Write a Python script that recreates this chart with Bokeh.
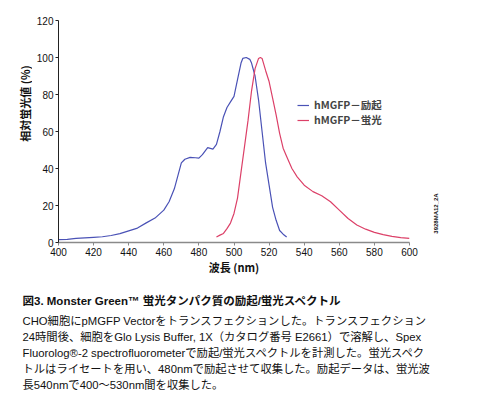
import math
from bokeh.plotting import figure
from bokeh.layouts import row, column
from bokeh.models import Range1d, Label, Legend, LegendItem, FixedTicker
from bokeh.embed import file_html
from bokeh.resources import INLINE

# Excitation spectrum (blue)
ex_nm = [400, 405, 410, 415, 420, 425, 430, 435, 440, 445, 450, 455, 460, 463, 466,
         468, 470, 472, 475, 478, 480, 482, 485, 488, 490, 492, 494, 496, 498, 500,
         502, 504, 505, 507, 509, 510, 512, 514, 516, 518, 520, 522, 524, 526, 528, 530]
ex_val = [1.6, 1.7, 2.2, 2.5, 2.8, 3.1, 3.8, 4.8, 6.3, 7.8, 10.6, 13.2, 17.5, 22, 29,
          36, 43, 45, 46, 45.8, 45.6, 47.5, 51.3, 50.5, 53, 60, 68, 73, 76, 79,
          88, 97, 99.5, 100, 99, 97, 90, 77, 60, 43, 31, 19, 12, 6.5, 4.5, 3]

# Emission spectrum (red)
em_nm = [490, 492, 494, 496, 498, 500, 502, 504, 506, 508, 510, 512, 514, 515, 516,
         518, 520, 522, 524, 526, 528, 530, 533, 536, 540, 545, 550, 555, 560, 565,
         570, 575, 580, 585, 590, 595, 600]
em_val = [3, 4, 4.9, 7.5, 10.5, 15.7, 24, 38, 52, 66, 82, 94, 99.5, 100, 99.5,
          93, 87, 78, 69, 59, 51, 46.5, 40, 35.5, 31, 27.5, 25.3, 22, 17.5, 13,
          9.5, 7.2, 5.5, 4.3, 3.3, 2.6, 2.2]

x_ticks = [400, 420, 440, 460, 480, 500, 520, 540, 560, 580, 600]
y_ticks = [0, 20, 40, 60, 80, 100, 120]

legend_labels = ["hMGFP－励起", "hMGFP－蛍光"]
x_title = "波長 (nm)"
y_title = "相対蛍光値 (%)"
fig_title = "図3. Monster Green™ 蛍光タンパク質の励起/蛍光スペクトル"
caption = [
    "CHO細胞にpMGFP Vectorをトランスフェクションした。トランスフェクション",
    "24時間後、細胞をGlo Lysis Buffer, 1X（カタログ番号 E2661）で溶解し、Spex",
    "Fluorolog®-2 spectrofluorometerで励起/蛍光スペクトルを計測した。蛍光スペク",
    "トルはライセートを用い、480nmで励起させて収集した。励起データは、蛍光波",
    "長540nmで400～530nm間を収集した。",
]
code_id = "3928MA12_2A"

BLUE = "#4a52b6"
RED = "#dc4068"
JP = "Noto Sans CJK JP"
MIX = "Liberation Sans, 'Noto Sans CJK JP'"
LAT = "Liberation Sans"
TOTAL_H = 398
TOP_H = 280


def blank(w, h):
    f = figure(width=w, height=h, output_backend="svg", toolbar_location=None,
               x_range=Range1d(0, 1), y_range=Range1d(0, 1),
               x_axis_location=None, y_axis_location=None, min_border=0)
    f.outline_line_color = None
    f.grid.visible = False
    return f


def lab(f, text, x, y, size, bold=False, angle=0.0, align="left", font=JP, color="#111111"):
    f.add_layout(Label(x=x, y=y, x_units="screen", y_units="screen", text=text,
                       text_font=font, text_font_size=size,
                       text_font_style="bold" if bold else "normal",
                       text_align=align, text_baseline="middle", angle=angle,
                       text_color=color))


# left strip: y axis title
L = blank(32, TOP_H)
lab(L, y_title, 24, TOP_H - 141, "11px", bold=True, angle=math.pi / 2, align="center")

# main chart
p = figure(width=394, height=TOP_H, output_backend="svg", toolbar_location=None,
           x_range=Range1d(400, 600), y_range=Range1d(0, 120),
           min_border_left=26, min_border_right=17, min_border_top=20,
           min_border_bottom=38)
p.outline_line_color = None
p.grid.visible = False

r_ex = p.line(ex_nm, ex_val, line_color=BLUE, line_width=1.2)
r_em = p.line(em_nm, em_val, line_color=RED, line_width=1.2)

p.yaxis.ticker = FixedTicker(ticks=y_ticks)
p.xaxis.ticker = FixedTicker(ticks=x_ticks)
for ax in (p.xaxis[0], p.yaxis[0]):
    ax.minor_tick_line_color = None
    ax.major_tick_in = 0
    ax.major_tick_out = 3
    ax.major_label_text_font = LAT
    ax.major_label_text_font_size = "10px"
    ax.major_label_text_color = "#111111"
p.yaxis.axis_line_color = "#222222"
p.yaxis.major_tick_line_color = "#222222"
p.yaxis.major_label_standoff = 2
p.xaxis.axis_line_color = "#8a8a8a"
p.xaxis.axis_line_width = 1.6
p.xaxis.major_tick_line_color = "#8a8a8a"
p.xaxis.major_label_standoff = 2
p.xaxis.axis_label = x_title
p.xaxis.axis_label_text_font = JP
p.xaxis.axis_label_text_font_style = "bold"
p.xaxis.axis_label_text_font_size = "11px"
p.xaxis.axis_label_text_color = "#111111"
p.xaxis.axis_label_standoff = 0

legend = Legend(items=[LegendItem(label=legend_labels[0], renderers=[r_ex]),
                       LegendItem(label=legend_labels[1], renderers=[r_em])],
                location=(239, 115), label_text_font=JP, label_text_font_style="bold",
                label_text_font_size="10.5px", label_height=14, glyph_height=14,
                glyph_width=12, label_standoff=5, spacing=0, padding=0, margin=0,
                border_line_alpha=0, background_fill_alpha=0)
p.add_layout(legend)

# right strip: figure code
C = blank(52, TOP_H)
lab(C, code_id, 9, TOP_H - 251, "6px", bold=True, angle=math.pi / 2, align="center", font=LAT)

# caption block
B = blank(478, TOTAL_H - TOP_H)
lab(B, fig_title, 22, TOTAL_H - 300, "11.5px", bold=True, font=MIX)
for i, line in enumerate(caption):
    lab(B, line, 22, TOTAL_H - 320 - 16 * i, "11.3px", font=MIX)

layout = column(row(L, p, C), B)
open("out.html", "w").write(file_html(layout, INLINE))
